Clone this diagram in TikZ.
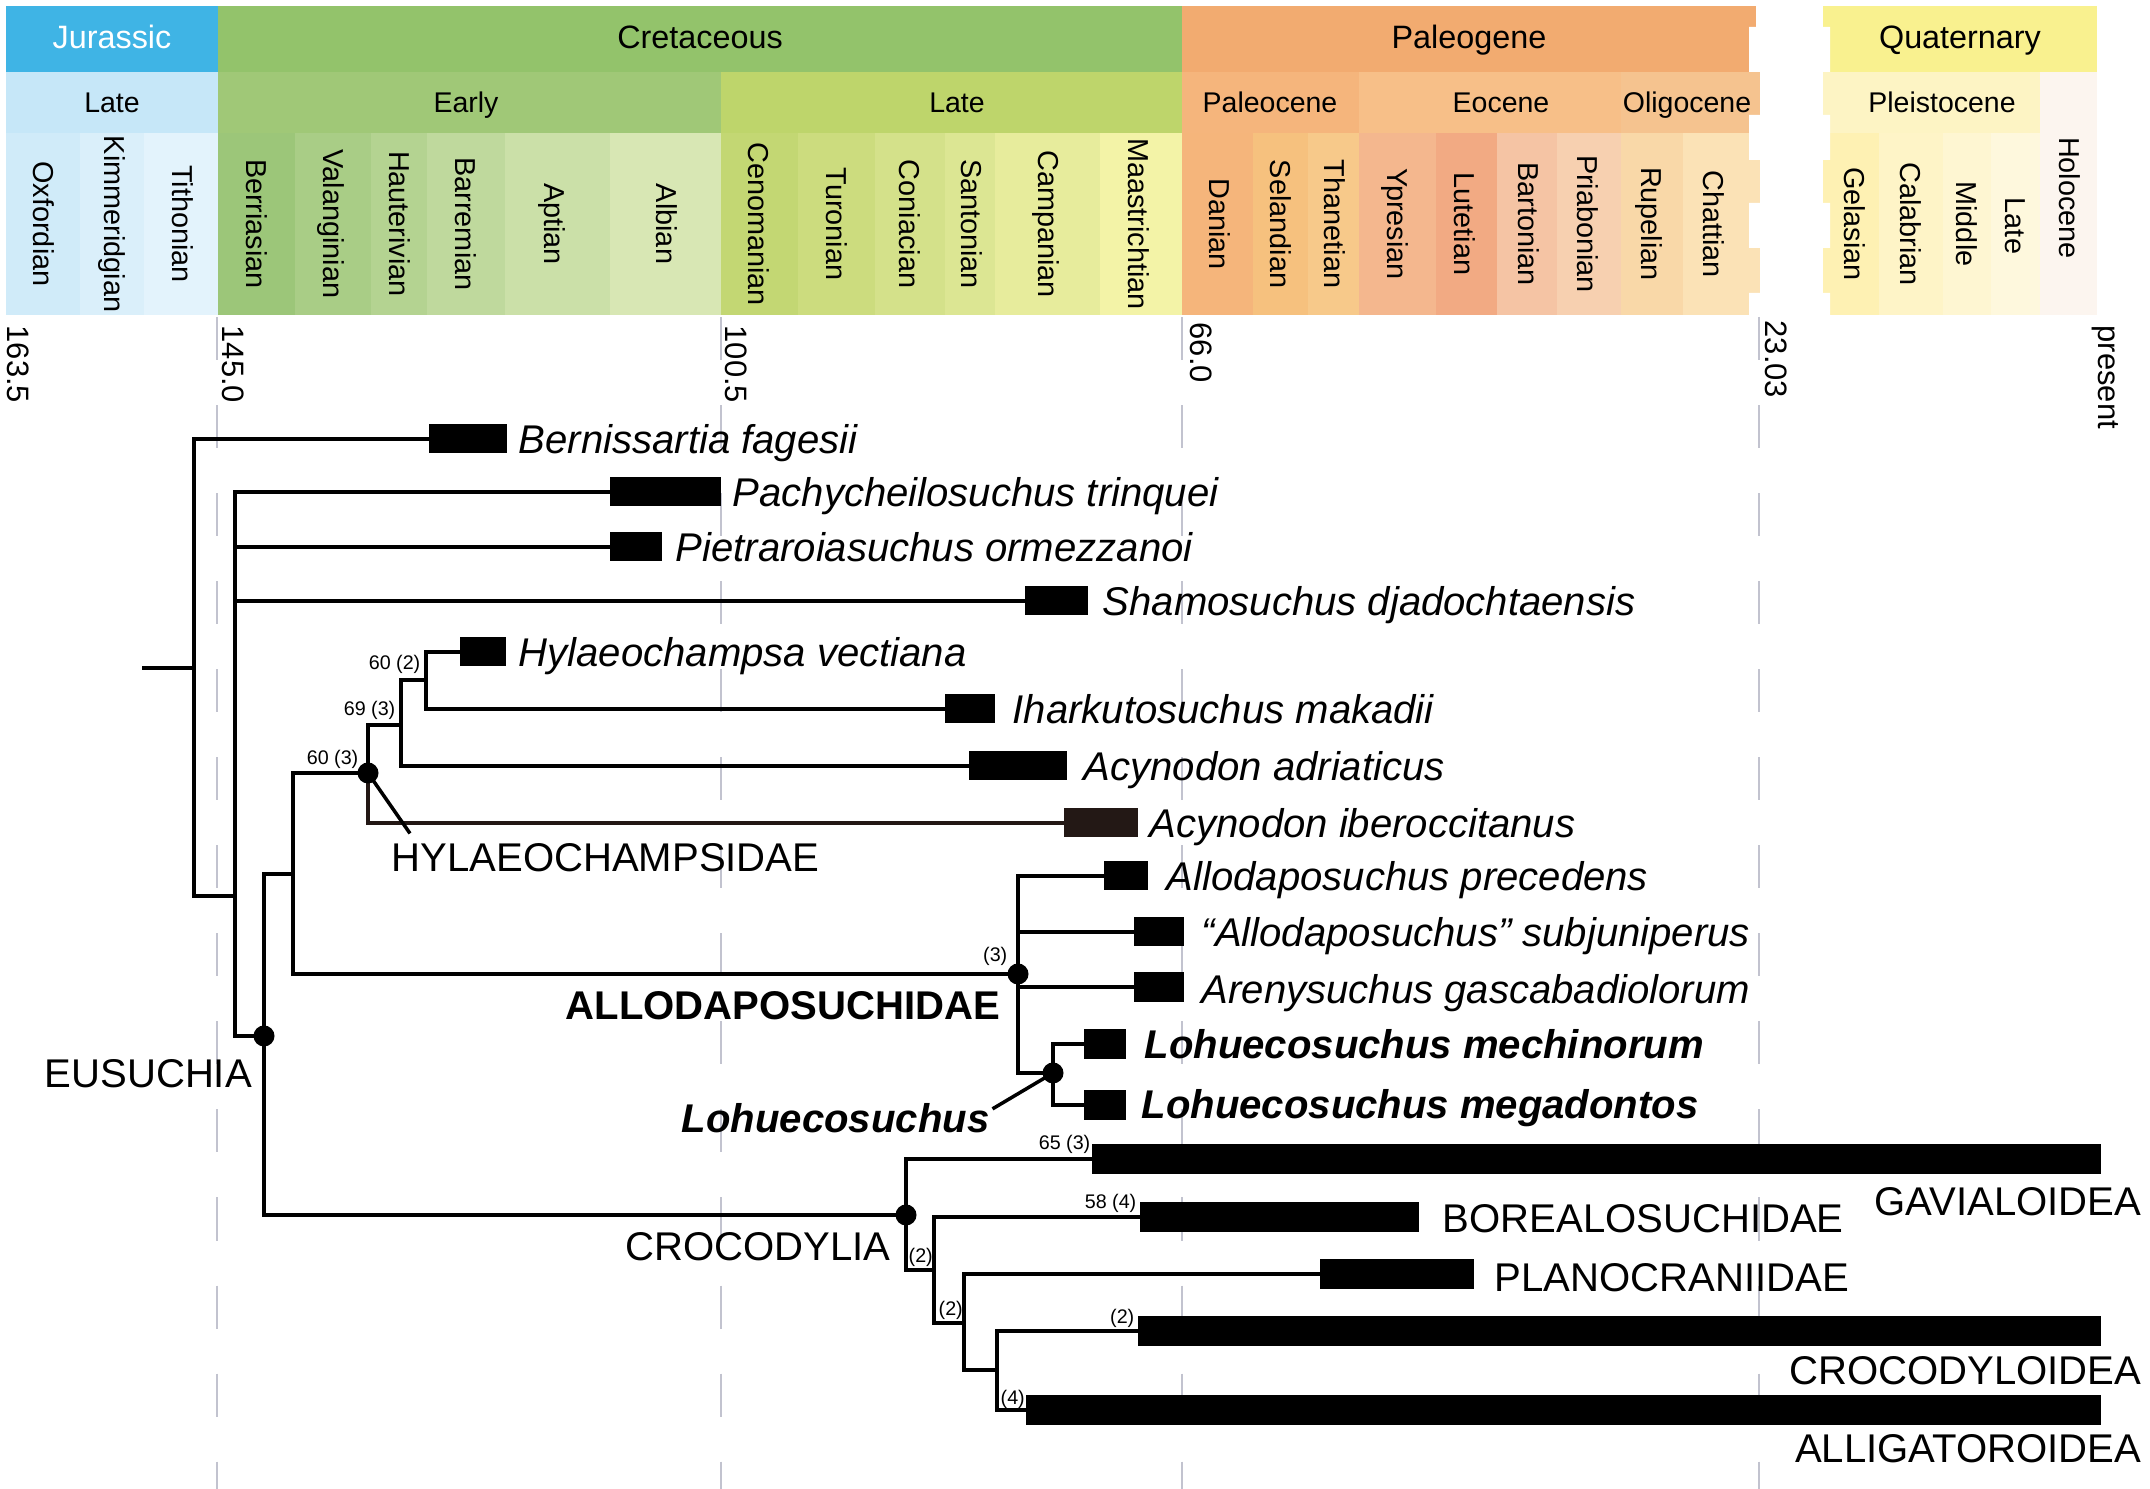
\documentclass[tikz,border=0pt]{standalone}
\usepackage{fontspec}
\setmainfont{Liberation Sans}

\definecolor{cJur}{HTML}{3FB4E5}
\definecolor{cJurL}{HTML}{C6E7F8}
\definecolor{cOxf}{HTML}{D0EBF9}
\definecolor{cKim}{HTML}{DAEFFA}
\definecolor{cTith}{HTML}{E3F3FC}
\definecolor{cCre}{HTML}{93C36B}
\definecolor{cCreE}{HTML}{A0C877}
\definecolor{cCreL}{HTML}{BED56B}
\definecolor{cBerr}{HTML}{9CC679}
\definecolor{cVal}{HTML}{A9CD86}
\definecolor{cHaut}{HTML}{B4D391}
\definecolor{cBarr}{HTML}{BFD99D}
\definecolor{cApt}{HTML}{CBE0A8}
\definecolor{cAlb}{HTML}{D8E7B4}
\definecolor{cCen}{HTML}{C3D773}
\definecolor{cTur}{HTML}{CCDC7E}
\definecolor{cCon}{HTML}{D4E18A}
\definecolor{cSan}{HTML}{DCE693}
\definecolor{cCamp}{HTML}{E7EC9C}
\definecolor{cMaas}{HTML}{F3F3A7}
\definecolor{cPal}{HTML}{F2AB70}
\definecolor{cPaleoc}{HTML}{F5B57C}
\definecolor{cEoc}{HTML}{F7BF88}
\definecolor{cOlig}{HTML}{F5C38F}
\definecolor{cDan}{HTML}{F5B57B}
\definecolor{cSel}{HTML}{F6C17E}
\definecolor{cThan}{HTML}{F7C98A}
\definecolor{cYpr}{HTML}{F4B78E}
\definecolor{cLut}{HTML}{F2AA83}
\definecolor{cBart}{HTML}{F5C4A4}
\definecolor{cPria}{HTML}{F7D0B0}
\definecolor{cRup}{HTML}{F9D8A8}
\definecolor{cChat}{HTML}{FBE2B6}
\definecolor{cQua}{HTML}{F9F18F}
\definecolor{cPleist}{HTML}{FDF4C4}
\definecolor{cGel}{HTML}{FEF1B3}
\definecolor{cCal}{HTML}{FEF4C7}
\definecolor{cMid}{HTML}{FEF6D2}
\definecolor{cLateQ}{HTML}{FEF8DD}
\definecolor{cHolo}{HTML}{FCF5EF}
\definecolor{cGrid}{HTML}{C2C3CF}
\definecolor{dkbrown}{HTML}{231815}

\tikzset{
  period/.style={font=\fontsize{9.2}{11}\selectfont, inner sep=0pt, text height=6.6pt, text depth=0pt},
  epoch/.style={font=\fontsize{8.1}{10}\selectfont, inner sep=0pt, text height=5.8pt, text depth=0pt},
  stage/.style={epoch, font=\fontsize{8.2}{10}\selectfont, rotate=-90},
  age/.style={font=\fontsize{8.8}{10}\selectfont, inner sep=0pt, text height=6.3pt, text depth=0pt, rotate=-90, anchor=west},
  timeline/.style={draw=cGrid, line width=0.6pt, dash pattern=on 0.43cm off 0.45cm},
  branch/.style={line width=1pt, line cap=rect},
  bar/.style={fill=black, inner sep=0pt, minimum height=0.29cm, anchor=west},
  dot/.style={circle, fill=black, inner sep=0pt, minimum size=0.21cm},
  taxon/.style={font=\fontsize{11.4}{13}\selectfont\itshape, inner sep=0pt, text height=8.2pt, text depth=0pt, anchor=west},
  boldtaxon/.style={taxon, font=\fontsize{11.4}{13}\selectfont\bfseries\itshape},
  clade/.style={font=\fontsize{11.4}{13}\selectfont, inner sep=0pt, text height=8.2pt, text depth=0pt},
  support/.style={font=\fontsize{5.6}{6.5}\selectfont, inner sep=0pt, text height=4pt, text depth=0pt}
}

\begin{document}
\begin{tikzpicture}[x=0.01cm, y=-0.01cm]
    \useasboundingbox (0,0) rectangle (2150,1489);
    \fill[white] (0,0) rectangle (2150,1489);

    \fill[cJur] (6,6) rectangle (218,72);
    \fill[cCre] (218,6) rectangle (1182,72);
    \fill[cPal] (1182,6) rectangle (1760,72);
    \fill[cQua] (1823,6) rectangle (2097,72);
    \node[period, text=white] (jur) at (112,37) {Jurassic};
    \node[period] (cret) at (700,37) {Cretaceous};
    \node[period] (paleo) at (1469,37) {Paleogene};
    \node[period] (quat) at (1960,37) {Quaternary};

    \fill[cJurL] (6,72) rectangle (218,133);
    \fill[cCreE] (218,72) rectangle (721,133);
    \fill[cCreL] (721,72) rectangle (1182,133);
    \fill[cPaleoc] (1182,72) rectangle (1359,133);
    \fill[cEoc] (1359,72) rectangle (1621,133);
    \fill[cOlig] (1621,72) rectangle (1760,133);
    \fill[cPleist] (1823,72) rectangle (2040,133);
    \fill[cHolo] (2040,72) rectangle (2097,315);
    \node[epoch] (ljur) at (112,102) {Late};
    \node[epoch] (ecret) at (466,102) {Early};
    \node[epoch] (lcret) at (957,102) {Late};
    \node[epoch] (paleoc) at (1270,102) {Paleocene};
    \node[epoch] (eoc) at (1501,102) {Eocene};
    \node[epoch] (olig) at (1687,102) {Oligocene};
    \node[epoch] (pleist) at (1942,102) {Pleistocene};

    \fill[cOxf] (6,133) rectangle (80,315);
    \fill[cKim] (80,133) rectangle (144,315);
    \fill[cTith] (144,133) rectangle (218,315);
    \fill[cBerr] (218,133) rectangle (295,315);
    \fill[cVal] (295,133) rectangle (371,315);
    \fill[cHaut] (371,133) rectangle (427,315);
    \fill[cBarr] (427,133) rectangle (505,315);
    \fill[cApt] (505,133) rectangle (610,315);
    \fill[cAlb] (610,133) rectangle (721,315);
    \fill[cCen] (721,133) rectangle (798,315);
    \fill[cTur] (798,133) rectangle (875,315);
    \fill[cCon] (875,133) rectangle (945,315);
    \fill[cSan] (945,133) rectangle (995,315);
    \fill[cCamp] (995,133) rectangle (1100,315);
    \fill[cMaas] (1100,133) rectangle (1182,315);
    \fill[cDan] (1182,133) rectangle (1253,315);
    \fill[cSel] (1253,133) rectangle (1308,315);
    \fill[cThan] (1308,133) rectangle (1359,315);
    \fill[cYpr] (1359,133) rectangle (1436,315);
    \fill[cLut] (1436,133) rectangle (1497,315);
    \fill[cBart] (1497,133) rectangle (1557,315);
    \fill[cPria] (1557,133) rectangle (1621,315);
    \fill[cRup] (1621,133) rectangle (1683,315);
    \fill[cChat] (1683,133) rectangle (1760,315);
    \fill[cGel] (1823,133) rectangle (1879,315);
    \fill[cCal] (1879,133) rectangle (1943,315);
    \fill[cMid] (1943,133) rectangle (1991,315);
    \fill[cLateQ] (1991,133) rectangle (2040,315);
    \fill[white] (1756,5) rectangle (1761,27) (1749,27) rectangle (1761,72) (1749,115) rectangle (1761,160)
        (1749,203) rectangle (1761,248) (1749,293) rectangle (1761,316);
    \fill[white] (1822,27) rectangle (1830,72) (1822,115) rectangle (1830,160)
        (1822,203) rectangle (1830,248) (1822,293) rectangle (1830,316);

    \node[stage] (oxf) at (44,224) {Oxfordian};
    \node[stage] (kim) at (115,224) {Kimmeridgian};
    \node[stage] (tith) at (183,224) {Tithonian};
    \node[stage] (berr) at (257,224) {Berriasian};
    \node[stage] (val) at (334,224) {Valanginian};
    \node[stage] (haut) at (400,224) {Hauterivian};
    \node[stage] (barr) at (466,224) {Barremian};
    \node[stage] (apt) at (555,224) {Aptian};
    \node[stage] (alb) at (667,224) {Albian};
    \node[stage] (cen) at (759,224) {Cenomanian};
    \node[stage] (tur) at (837,224) {Turonian};
    \node[stage] (con) at (910,224) {Coniacian};
    \node[stage] (san) at (972,224) {Santonian};
    \node[stage] (camp) at (1049,224) {Campanian};
    \node[stage] (maas) at (1139,224) {Maastrichtian};
    \node[stage] (dan) at (1220,224) {Danian};
    \node[stage] (sel) at (1281,224) {Selandian};
    \node[stage] (than) at (1335,224) {Thanetian};
    \node[stage] (ypr) at (1398,224) {Ypresian};
    \node[stage] (lut) at (1465,224) {Lutetian};
    \node[stage] (bart) at (1529,224) {Bartonian};
    \node[stage] (pria) at (1588,224) {Priabonian};
    \node[stage] (rup) at (1652,224) {Rupelian};
    \node[stage] (chat) at (1714,224) {Chattian};
    \node[stage] (gel) at (1855,224) {Gelasian};
    \node[stage] (cal) at (1911,224) {Calabrian};
    \node[stage] (mid) at (1967,224) {Middle};
    \node[stage] (late) at (2016,226) {Late};
    \node[stage] (holo) at (2070,198) {Holocene};

    \node[age] (a163) at (19,325) {163.5};
    \node[age] (a145) at (234,325) {145.0};
    \node[age] (a100) at (737,325) {100.5};
    \node[age] (a66) at (1202,322) {66.0};
    \node[age] (a23) at (1777,320) {23.03};
    \node[age] (a0) at (2110,325) {present};

    \draw[timeline] (217,317) -- (217,1489);
    \draw[timeline] (721,317) -- (721,1489);
    \draw[timeline] (1182,317) -- (1182,1489);
    \draw[timeline] (1759,317) -- (1759,1489);

    \coordinate (root) at (144,668);
    \coordinate (n1) at (194,668);
    \coordinate (n2) at (235,896);
    \coordinate (eus) at (264,1036);
    \coordinate (nA) at (293,874);
    \coordinate (hyl) at (368,773);
    \coordinate (nB) at (401,725);
    \coordinate (nC) at (426,680);
    \coordinate (allo) at (1018,974);
    \coordinate (lohu) at (1053,1073);
    \coordinate (croc) at (906,1215);
    \coordinate (nD) at (934,1270);
    \coordinate (nE) at (964,1323);
    \coordinate (nF) at (997,1370);
    \coordinate (hylend) at (409,832);
    \coordinate (lohend) at (994,1108);

    \node[bar, minimum width=0.78cm] (bern) at (428,439) {};
    \node[bar, minimum width=1.11cm] (pach) at (609,492) {};
    \node[bar, minimum width=0.52cm] (piet) at (609,547) {};
    \node[bar, minimum width=0.63cm] (sham) at (1024,601) {};
    \node[bar, minimum width=0.46cm] (hyla) at (459,652) {};
    \node[bar, minimum width=0.50cm] (ihar) at (944,709) {};
    \node[bar, minimum width=0.98cm] (acad) at (968,766) {};
    \node[bar, minimum width=0.74cm, fill=dkbrown] (acib) at (1063,823) {};
    \node[bar, minimum width=0.44cm] (apre) at (1103,876) {};
    \node[bar, minimum width=0.50cm] (asub) at (1133,932) {};
    \node[bar, minimum width=0.50cm] (aren) at (1133,987) {};
    \node[bar, minimum width=0.42cm] (lmec) at (1083,1044) {};
    \node[bar, minimum width=0.42cm] (lmeg) at (1083,1105) {};
    \node[bar, minimum width=10.09cm] (gavi) at (1091,1159) {};
    \node[bar, minimum width=2.79cm] (bore) at (1139,1217) {};
    \node[bar, minimum width=1.54cm] (plan) at (1319,1274) {};
    \node[bar, minimum width=9.63cm] (crbox) at (1137,1331) {};
    \node[bar, minimum width=10.75cm] (alli) at (1025,1410) {};

    \draw[branch] (root) -- (n1);
    \draw[branch] (n1) |- (bern.west) (n1) |- (n2);
    \draw[branch] (n2) |- (pach.west) (n2) |- (piet.west) (n2) |- (sham.west) (n2) |- (eus);
    \draw[branch] (eus) |- (nA) (eus) |- (croc);
    \draw[branch] (nA) |- (hyl) (nA) |- (allo);
    \draw[branch] (hyl) |- (nB);
    \draw[branch, dkbrown] (hyl) |- (acib.west);
    \draw[branch] (nB) |- (nC) (nB) |- (acad.west);
    \draw[branch] (nC) |- (hyla.west) (nC) |- (ihar.west);
    \draw[branch] (allo) |- (apre.west) (allo) |- (asub.west) (allo) |- (aren.west) (allo) |- (lohu);
    \draw[branch] (lohu) |- (lmec.west) (lohu) |- (lmeg.west);
    \draw[branch] (croc) |- (gavi.west) (croc) |- (nD);
    \draw[branch] (nD) |- (bore.west) (nD) |- (nE);
    \draw[branch] (nE) |- (plan.west) (nE) |- (nF);
    \draw[branch] (nF) |- (crbox.west) (nF) |- (alli.west);
    \draw[branch] (hyl) -- (hylend);
    \draw[branch] (lohu) -- (lohend);

    \node[dot] (eusdot) at (eus) {};
    \node[dot] (hyldot) at (hyl) {};
    \node[dot] (allodot) at (allo) {};
    \node[dot] (lohudot) at (lohu) {};
    \node[dot] (crocdot) at (croc) {};

    \node[taxon] (tbern) at (518,439) {Bernissartia fagesii};
    \node[taxon] (tpach) at (732,492) {Pachycheilosuchus trinquei};
    \node[taxon] (tpiet) at (675,547) {Pietraroiasuchus ormezzanoi};
    \node[taxon] (tsham) at (1102,601) {Shamosuchus djadochtaensis};
    \node[taxon] (thyla) at (518,652) {Hylaeochampsa vectiana};
    \node[taxon] (tihar) at (1012,709) {Iharkutosuchus makadii};
    \node[taxon] (tacad) at (1083,766) {Acynodon adriaticus};
    \node[taxon] (tacib) at (1149,823) {Acynodon iberoccitanus};
    \node[taxon] (tapre) at (1166,876) {Allodaposuchus precedens};
    \node[taxon] (tasub) at (1201,932) {“Allodaposuchus” subjuniperus};
    \node[taxon] (taren) at (1201,989) {Arenysuchus gascabadiolorum};
    \node[boldtaxon] (tlmec) at (1144,1044) {Lohuecosuchus mechinorum};
    \node[boldtaxon] (tlmeg) at (1141,1104) {Lohuecosuchus megadontos};

    \node[clade, anchor=west] (lhyl) at (391,857) {HYLAEOCHAMPSIDAE};
    \node[clade, anchor=west, font=\fontsize{11.4}{13}\selectfont\bfseries] (lallo) at (565,1005) {ALLODAPOSUCHIDAE};
    \node[boldtaxon, anchor=east] (llohu) at (990,1118) {Lohuecosuchus};
    \node[clade, anchor=west] (leus) at (44,1073) {EUSUCHIA};
    \node[clade, anchor=east] (lcroc) at (891,1246) {CROCODYLIA};
    \node[clade, anchor=west] (lbore) at (1442,1218) {BOREALOSUCHIDAE};
    \node[clade, anchor=west] (lplan) at (1494,1277) {PLANOCRANIIDAE};
    \node[clade, anchor=east] (lgavi) at (2142,1201) {GAVIALOIDEA};
    \node[clade, anchor=east] (lcrbox) at (2142,1370) {CROCODYLOIDEA};
    \node[clade, anchor=east] (lalli) at (2142,1448) {ALLIGATOROIDEA};

    \node[support, anchor=east] (s1) at (421,662) {60 (2)};
    \node[support, anchor=east] (s2) at (396,708) {69 (3)};
    \node[support, anchor=east] (s3) at (359,757) {60 (3)};
    \node[support, anchor=east] (s4) at (1008,954) {(3)};
    \node[support, anchor=east] (s5) at (1091,1142) {65 (3)};
    \node[support, anchor=east] (s6) at (1137,1201) {58 (4)};
    \node[support, anchor=west] (s7) at (908,1255) {(2)};
    \node[support, anchor=west] (s8) at (938,1308) {(2)};
    \node[support, anchor=east] (s9) at (1135,1316) {(2)};
    \node[support, anchor=west] (s10) at (1000,1397) {(4)};
\end{tikzpicture}
\end{document}
